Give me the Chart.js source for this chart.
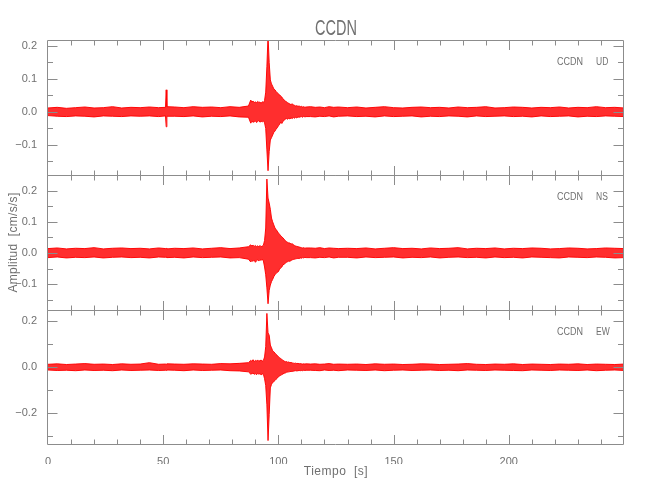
<!DOCTYPE html>
<html>
<head>
<meta charset="utf-8">
<script src="https://cdn.jsdelivr.net/npm/chart.js@4"></script>
<style>
  html, body { margin: 0; padding: 0; background: #fff; }
  #wrap { position: relative; width: 650px; height: 500px; }
  #wrap canvas { position: absolute; left: 0; top: 0; }
</style>
</head>
<body>
<div id="wrap">
  <canvas id="ud" width="650" height="500"></canvas>
  <canvas id="ns" width="650" height="500"></canvas>
  <canvas id="ew" width="650" height="500"></canvas>
</div>
<script>
const STATION = "CCDN";

// sample times [s], dense around the arrival
const TIME = [
  0, 4, 8, 12, 16, 20, 24, 28, 32, 36, 40, 44, 48,
  51, 51.3, 51.6,
  55, 59, 63, 67, 71, 75, 79, 83, 87,
  88, 88.5, 89, 89.5, 90, 90.5, 91, 91.5, 92, 92.5,
  93, 93.5, 94, 94.5, 95, 95.5, 96, 96.5, 97, 97.5,
  98, 98.5, 99, 99.5, 100, 100.5, 101, 101.5, 102, 102.5,
  103, 103.5, 104, 104.5, 105, 105.5, 106, 106.5, 107, 107.5,
  108, 108.5, 109, 109.5, 110, 110.5, 111, 111.5, 112,
  114, 116, 118, 120, 122, 124, 126,
  130, 134, 138, 142, 146, 150, 154, 158, 162, 166, 170, 174, 178, 182, 186, 190,
  194, 198, 202, 206, 210, 214, 218, 222, 226, 230, 234, 238, 242, 246, 250
];

// upper / lower envelope of each trace [cm/s/s]
const UD_HI = [
  0.012, 0.014, 0.011, 0.013, 0.015, 0.012, 0.013, 0.016, 0.012, 0.014, 0.013, 0.015, 0.013,
  0.014, 0.067, 0.016,
  0.015, 0.013, 0.016, 0.014, 0.015, 0.013, 0.016, 0.014, 0.018,
  0.036, 0.030, 0.033, 0.028, 0.031, 0.027, 0.032, 0.029, 0.030, 0.026,
  0.031, 0.028, 0.035, 0.060, 0.137, 0.230, 0.150, 0.097, 0.085, 0.078,
  0.070, 0.067, 0.062, 0.058, 0.055, 0.052, 0.048, 0.045, 0.040, 0.036,
  0.033, 0.031, 0.028, 0.026, 0.024, 0.022, 0.025, 0.021, 0.020, 0.018,
  0.019, 0.017, 0.018, 0.016, 0.017, 0.015, 0.016, 0.014, 0.015,
  0.016, 0.014, 0.015, 0.013, 0.016, 0.014, 0.015,
  0.013, 0.015, 0.012, 0.014, 0.016, 0.013, 0.012, 0.014, 0.015, 0.013, 0.014, 0.012, 0.015, 0.013, 0.014, 0.016,
  0.012, 0.013, 0.015, 0.014, 0.012, 0.014, 0.013, 0.015, 0.012, 0.014, 0.013, 0.016, 0.013, 0.014, 0.012
];
const UD_LO = [
  -0.011, -0.013, -0.014, -0.012, -0.013, -0.015, -0.012, -0.013, -0.014, -0.012, -0.013, -0.012, -0.014,
  -0.012, -0.045, -0.013,
  -0.013, -0.014, -0.012, -0.015, -0.013, -0.014, -0.012, -0.015, -0.016,
  -0.034, -0.028, -0.031, -0.030, -0.027, -0.032, -0.029, -0.026, -0.031, -0.028,
  -0.030, -0.027, -0.033, -0.050, -0.115, -0.178, -0.120, -0.085, -0.078, -0.070,
  -0.062, -0.058, -0.052, -0.048, -0.042, -0.038, -0.030, -0.035, -0.028, -0.025,
  -0.022, -0.020, -0.022, -0.019, -0.021, -0.018, -0.020, -0.017, -0.019, -0.016,
  -0.018, -0.015, -0.016, -0.015, -0.014, -0.016, -0.013, -0.015, -0.014,
  -0.014, -0.015, -0.013, -0.014, -0.012, -0.015, -0.013,
  -0.012, -0.014, -0.013, -0.015, -0.012, -0.014, -0.013, -0.012, -0.015, -0.013, -0.014, -0.012, -0.013, -0.015, -0.012, -0.014,
  -0.013, -0.012, -0.014, -0.013, -0.015, -0.012, -0.014, -0.013, -0.012, -0.015, -0.013, -0.014, -0.012, -0.013, -0.014
];

const NS_HI = [
  0.014, 0.016, 0.013, 0.015, 0.014, 0.017, 0.013, 0.015, 0.016, 0.014, 0.015, 0.013, 0.016,
  0.014, 0.015, 0.013,
  0.015, 0.014, 0.016, 0.013, 0.015, 0.017, 0.014, 0.016, 0.020,
  0.026, 0.022, 0.025, 0.021, 0.024, 0.020, 0.023, 0.019, 0.024, 0.020,
  0.022, 0.025, 0.040, 0.080, 0.237, 0.176, 0.160, 0.140, 0.112, 0.100,
  0.090, 0.080, 0.075, 0.070, 0.064, 0.060, 0.055, 0.052, 0.048, 0.044,
  0.040, 0.036, 0.034, 0.032, 0.032, 0.028, 0.030, 0.026, 0.024, 0.022,
  0.021, 0.020, 0.019, 0.018, 0.017, 0.016, 0.017, 0.015, 0.016,
  0.016, 0.015, 0.017, 0.014, 0.016, 0.015, 0.014,
  0.015, 0.014, 0.016, 0.013, 0.015, 0.017, 0.014, 0.015, 0.013, 0.016, 0.014, 0.015, 0.017, 0.013, 0.015, 0.014,
  0.016, 0.013, 0.015, 0.014, 0.016, 0.015, 0.013, 0.014, 0.016, 0.015, 0.013, 0.014, 0.016, 0.015, 0.014
];
const NS_LO = [
  -0.015, -0.013, -0.016, -0.014, -0.015, -0.013, -0.016, -0.014, -0.013, -0.015, -0.014, -0.016, -0.013,
  -0.014, -0.013, -0.015,
  -0.014, -0.016, -0.013, -0.015, -0.014, -0.013, -0.016, -0.015, -0.020,
  -0.029, -0.024, -0.027, -0.023, -0.030, -0.025, -0.022, -0.026, -0.021, -0.024,
  -0.020, -0.026, -0.045, -0.070, -0.112, -0.163, -0.120, -0.103, -0.092, -0.085,
  -0.076, -0.070, -0.066, -0.062, -0.060, -0.052, -0.048, -0.045, -0.038, -0.036,
  -0.033, -0.030, -0.028, -0.026, -0.027, -0.024, -0.022, -0.021, -0.020, -0.019,
  -0.018, -0.017, -0.018, -0.016, -0.017, -0.015, -0.016, -0.014, -0.015,
  -0.015, -0.016, -0.014, -0.015, -0.013, -0.016, -0.014,
  -0.014, -0.016, -0.013, -0.015, -0.014, -0.013, -0.016, -0.014, -0.015, -0.013, -0.016, -0.014, -0.013, -0.015, -0.014, -0.016,
  -0.013, -0.015, -0.014, -0.016, -0.013, -0.014, -0.015, -0.016, -0.013, -0.014, -0.015, -0.013, -0.014, -0.016, -0.015
];

const EW_HI = [
  0.013, 0.015, 0.012, 0.014, 0.016, 0.013, 0.014, 0.012, 0.015, 0.013, 0.014, 0.020, 0.013,
  0.014, 0.013, 0.015,
  0.014, 0.013, 0.015, 0.014, 0.013, 0.016, 0.015, 0.017, 0.020,
  0.030, 0.026, 0.033, 0.025, 0.030, 0.027, 0.032, 0.026, 0.029, 0.031,
  0.027, 0.030, 0.045, 0.090, 0.235, 0.150, 0.140, 0.097, 0.085, 0.072,
  0.068, 0.062, 0.056, 0.052, 0.046, 0.042, 0.038, 0.034, 0.030, 0.027,
  0.024, 0.025, 0.022, 0.023, 0.020, 0.021, 0.019, 0.018, 0.017, 0.018,
  0.016, 0.017, 0.015, 0.016, 0.015, 0.014, 0.015, 0.014, 0.015,
  0.014, 0.015, 0.013, 0.014, 0.016, 0.013, 0.014,
  0.013, 0.014, 0.012, 0.015, 0.013, 0.014, 0.012, 0.013, 0.015, 0.014, 0.012, 0.013, 0.014, 0.016, 0.013, 0.012,
  0.014, 0.013, 0.015, 0.012, 0.014, 0.013, 0.012, 0.014, 0.013, 0.015, 0.012, 0.014, 0.013, 0.012, 0.014
];
const EW_LO = [
  -0.012, -0.014, -0.013, -0.015, -0.012, -0.014, -0.013, -0.015, -0.012, -0.014, -0.013, -0.012, -0.014,
  -0.013, -0.014, -0.012,
  -0.013, -0.015, -0.012, -0.014, -0.013, -0.012, -0.015, -0.016, -0.020,
  -0.030, -0.028, -0.025, -0.031, -0.027, -0.033, -0.026, -0.030, -0.028, -0.033,
  -0.029, -0.031, -0.050, -0.080, -0.164, -0.320, -0.207, -0.090, -0.075, -0.066,
  -0.063, -0.058, -0.052, -0.048, -0.041, -0.038, -0.035, -0.032, -0.029, -0.026,
  -0.025, -0.022, -0.021, -0.020, -0.019, -0.018, -0.018, -0.017, -0.016, -0.015,
  -0.016, -0.015, -0.014, -0.015, -0.014, -0.015, -0.013, -0.014, -0.013,
  -0.013, -0.014, -0.015, -0.012, -0.014, -0.013, -0.015,
  -0.012, -0.013, -0.014, -0.012, -0.015, -0.013, -0.012, -0.014, -0.013, -0.012, -0.014, -0.013, -0.015, -0.012, -0.013, -0.014,
  -0.012, -0.013, -0.014, -0.015, -0.012, -0.013, -0.014, -0.012, -0.013, -0.014, -0.012, -0.015, -0.013, -0.012, -0.014
];

// axes
const X_MAX = 250;
const X_MINOR = 10;
const X_TICKS = [0, 50, 100, 150, 200];
const UD_TICKS = [-0.1, 0.0, 0.1, 0.2];
const NS_TICKS = [-0.1, 0.0, 0.1, 0.2];
const EW_TICKS = [-0.2, 0.0, 0.2];

const FONT = "'Liberation Sans', Arial, sans-serif";
const AXIS_COLOR = '#8c8c8c';
const TEXT_COLOR = '#707070';
const LEFT = 48, RIGHT = 624;

function fmtY(v) {
  const s = Math.abs(v).toFixed(1);
  return v < -1e-9 ? '\u2212' + s : s;
}

function points(vals) {
  return TIME.map((t, i) => ({ x: t, y: vals[i] }));
}

// narrow text: squeeze horizontally around the anchor point
function narrowText(ctx, text, x, y, sx) {
  ctx.save();
  ctx.translate(x, y);
  ctx.scale(sx, 1);
  ctx.fillText(text, 0, 0);
  ctx.restore();
}

function makePanel(p) {
  const frame = {
    id: 'frame',
    afterDraw(chart) {
      const { ctx, chartArea: a } = chart;
      const x = chart.scales.x, y = chart.scales.y;
      const L = a.left - 0.5, R = a.right - 0.5, T = a.top + 0.5, B = a.bottom + 0.5;

      ctx.save();
      ctx.strokeStyle = AXIS_COLOR;
      ctx.lineWidth = 1;
      ctx.beginPath();
      ctx.rect(L, T, R - L, B - T);
      for (let k = 1; k < X_MAX / X_MINOR; k++) {
        const v = k * X_MINOR;
        const px = Math.round(x.getPixelForValue(v)) + 0.5;
        const len = X_TICKS.includes(v) ? 9.5 : 5;
        ctx.moveTo(px, T); ctx.lineTo(px, T + len);
        ctx.moveTo(px, B); ctx.lineTo(px, B - len);
      }
      const k0 = Math.ceil(p.min / p.minor - 1e-6), k1 = Math.floor(p.max / p.minor + 1e-6);
      for (let k = k0; k <= k1; k++) {
        const v = k * p.minor;
        const major = p.ticks.some(t => Math.abs(t - v) < 1e-6);
        const py = Math.round(y.getPixelForValue(v)) + 0.5;
        const len = major ? 10 : 5.5;
        ctx.moveTo(L, py); ctx.lineTo(L + len, py);
        ctx.moveTo(R, py); ctx.lineTo(R - len, py);
      }
      ctx.stroke();

      ctx.fillStyle = TEXT_COLOR;
      ctx.textBaseline = 'middle';
      ctx.textAlign = 'left';
      ctx.font = '10px ' + FONT;
      narrowText(ctx, STATION, 557, a.top + 22, 0.9);
      narrowText(ctx, p.comp, 596, a.top + 22, 0.85);

      if (p.title) {
        ctx.font = '22px ' + FONT;
        ctx.textAlign = 'center';
        narrowText(ctx, STATION, (LEFT + RIGHT) / 2, 29, 0.66);
      }
      if (p.yTitle) {
        ctx.save();
        ctx.translate(14, (a.top + a.bottom) / 2);
        ctx.rotate(-Math.PI / 2);
        ctx.font = '12px ' + FONT;
        ctx.letterSpacing = '0.3px';
        ctx.textAlign = 'center';
        ctx.fillText(p.yTitle, 0, 0);
        ctx.restore();
      }
      if (p.xTitle) {
        ctx.save();
        ctx.font = '12px ' + FONT;
        ctx.letterSpacing = '0.5px';
        ctx.textAlign = 'center';
        ctx.fillText(p.xTitle, (LEFT + RIGHT) / 2, 471.5);
        ctx.restore();
      }
      ctx.restore();
    }
  };

  const xScale = {
    type: 'linear', min: 0, max: X_MAX, display: p.showX,
    grid: { display: false }, border: { display: false },
    ticks: { color: TEXT_COLOR, font: { family: FONT, size: 11 }, padding: 3, maxRotation: 0,
             callback: v => String(v) },
    afterBuildTicks: s => { s.ticks = X_TICKS.map(v => ({ value: v })); }
  };
  if (p.showX) xScale.afterFit = s => { s.height = 20; };

  return new Chart(document.getElementById(p.id), {
    type: 'line',
    data: {
      datasets: [
        { data: points(p.hi), fill: '+1', borderColor: 'rgba(255,0,0,0.95)', backgroundColor: 'rgba(255,0,0,0.82)',
          borderWidth: 1, pointRadius: 0, tension: 0 },
        { data: points(p.lo), fill: false, borderColor: 'rgba(255,0,0,0.95)',
          borderWidth: 1, pointRadius: 0, tension: 0 }
      ]
    },
    options: {
      responsive: false,
      animation: false,
      devicePixelRatio: 1,
      layout: { padding: { top: p.top, bottom: 500 - p.bottom - (p.showX ? 20 : 0), left: 0, right: 650 - RIGHT } },
      plugins: { legend: { display: false }, tooltip: { enabled: false } },
      scales: {
        x: xScale,
        y: {
          min: p.min, max: p.max,
          grid: { display: false }, border: { display: false },
          ticks: { color: TEXT_COLOR, font: { family: FONT, size: 11 }, padding: 3, callback: fmtY },
          afterBuildTicks: s => { s.ticks = p.ticks.map(v => ({ value: v })); },
          afterFit: s => { s.width = LEFT; }
        }
      }
    },
    plugins: [frame]
  });
}

makePanel({ id: 'ud', comp: 'UD', hi: UD_HI, lo: UD_LO, ticks: UD_TICKS, min: -0.191, max: 0.218, minor: 0.05,
            top: 40, bottom: 175, showX: false, title: true });
makePanel({ id: 'ns', comp: 'NS', hi: NS_HI, lo: NS_LO, ticks: NS_TICKS, min: -0.183, max: 0.25, minor: 0.05,
            top: 175, bottom: 310, showX: false, yTitle: 'Amplitud  [cm/s/s]' });
makePanel({ id: 'ew', comp: 'EW', hi: EW_HI, lo: EW_LO, ticks: EW_TICKS, min: -0.335, max: 0.25, minor: 0.1,
            top: 310, bottom: 444, showX: true, xTitle: 'Tiempo  [s]' });
</script>
</body>
</html>
